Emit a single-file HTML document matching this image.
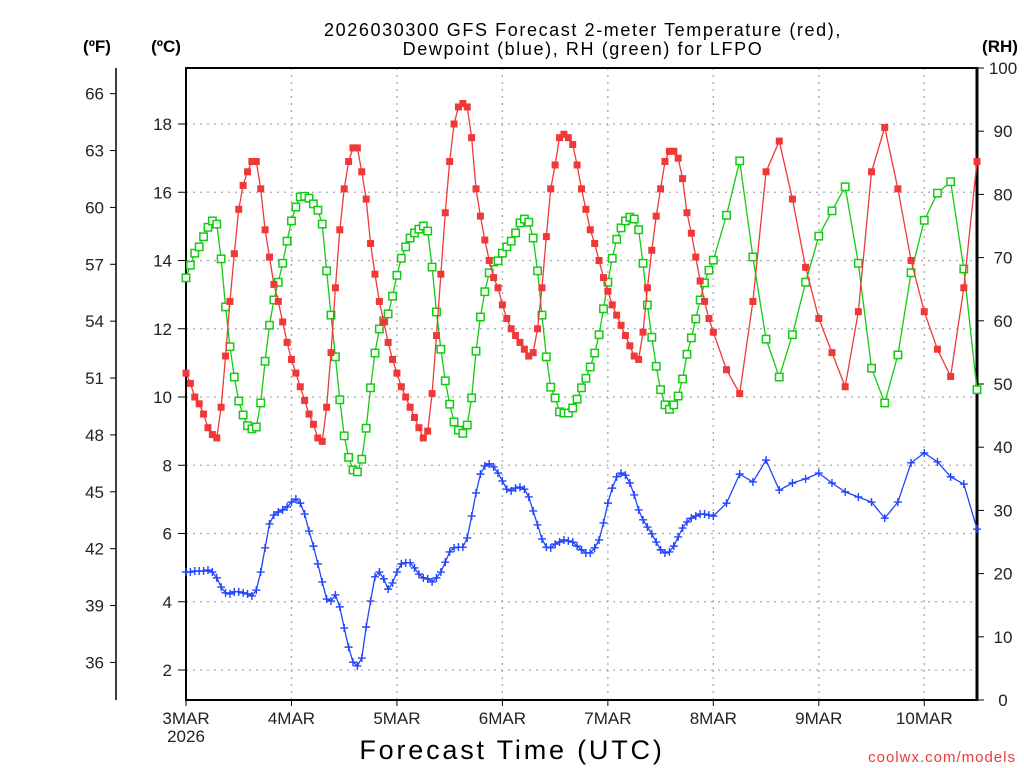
<!DOCTYPE html>
<html><head><meta charset="utf-8"><style>
html,body{margin:0;padding:0;background:#fff;}
svg{display:block;font-family:"Liberation Sans",sans-serif;}
</style></head><body>
<svg id="chart" width="1024" height="768" viewBox="0 0 1024 768" xmlns="http://www.w3.org/2000/svg">
<text x="583" y="36" font-size="18" text-anchor="middle" fill="#000" letter-spacing="1.6">2026030300 GFS Forecast 2-meter Temperature (red),</text>
<text x="583" y="55" font-size="18" text-anchor="middle" fill="#000" letter-spacing="1.6">Dewpoint (blue), RH (green) for LFPO</text>
<text x="97" y="52" font-size="17" font-weight="bold" text-anchor="middle">(ºF)</text>
<text x="166" y="52" font-size="17" font-weight="bold" text-anchor="middle">(ºC)</text>
<text x="1000" y="52" font-size="17" font-weight="bold" text-anchor="middle">(RH)</text>
<text x="512" y="759" font-size="27" text-anchor="middle" letter-spacing="2.8">Forecast Time (UTC)</text>
<text x="1016" y="762" font-size="15" text-anchor="end" fill="#e83c3c" letter-spacing="1">coolwx.com/models</text>
<g id="grid"></g>
<g id="axes"></g>
<g id="series"></g>
</svg>
<script>
const days = ["3MAR","4MAR","5MAR","6MAR","7MAR","8MAR","9MAR","10MAR"];
const cTicks = [2,4,6,8,10,12,14,16,18];
const fTicks = [36,39,42,45,48,51,54,57,60,63,66];
const rhTicks = [0,10,20,30,40,50,60,70,80,90,100];
const hours3h = [123,126,129,132,135,138,141,144,147,150,153,156,159,162,165,168,171,174,177,180];
const tempHourly = [10.7,10.4,10.0,9.8,9.5,9.1,8.9,8.8,9.7,11.2,12.8,14.2,15.5,16.2,16.6,16.9,16.9,16.1,14.9,14.1,13.3,12.8,12.2,11.6,11.1,10.7,10.3,9.9,9.5,9.2,8.8,8.7,9.7,11.3,13.2,14.9,16.1,16.9,17.3,17.3,16.6,15.8,14.5,13.6,12.8,12.2,11.6,11.1,10.7,10.3,10.0,9.7,9.4,9.1,8.8,9.0,10.1,11.8,13.6,15.4,16.9,18.0,18.5,18.6,18.5,17.6,16.1,15.3,14.6,14.0,13.5,13.2,12.7,12.3,12.0,11.8,11.6,11.4,11.2,11.3,12.0,13.2,14.7,16.1,16.8,17.6,17.7,17.6,17.4,16.8,16.1,15.5,14.9,14.5,14.0,13.5,13.1,12.7,12.4,12.1,11.8,11.5,11.2,11.1,11.9,13.2,14.3,15.3,16.1,16.9,17.2,17.2,17.0,16.4,15.4,14.8,14.1,13.4,12.8,12.3,11.9];
const temp3h = [10.8,10.1,12.8,16.6,17.5,15.8,13.8,12.3,11.3,10.3,12.5,16.6,17.9,16.1,14.0,12.5,11.4,10.6,13.2,16.9];
const dewHourly = [4.87,4.87,4.9,4.9,4.9,4.93,4.87,4.7,4.43,4.26,4.23,4.29,4.29,4.26,4.23,4.17,4.34,4.87,5.58,6.28,6.54,6.63,6.69,6.78,6.92,7.01,6.89,6.57,6.07,5.63,5.11,4.58,4.08,4.02,4.2,3.85,3.23,2.67,2.23,2.12,2.35,3.26,4.02,4.73,4.87,4.67,4.37,4.55,4.87,5.11,5.14,5.14,4.99,4.81,4.7,4.67,4.58,4.7,4.87,5.16,5.46,5.58,5.6,5.6,5.87,6.51,7.19,7.74,7.98,8.04,7.95,7.77,7.54,7.3,7.25,7.33,7.36,7.3,7.07,6.66,6.25,5.84,5.6,5.58,5.69,5.75,5.81,5.78,5.75,5.63,5.52,5.43,5.43,5.58,5.81,6.31,6.89,7.33,7.66,7.77,7.71,7.48,7.13,6.69,6.4,6.19,5.99,5.75,5.52,5.43,5.46,5.63,5.9,6.16,6.34,6.45,6.51,6.57,6.57,6.54,6.51];
const dew3h = [6.89,7.74,7.51,8.15,7.27,7.48,7.6,7.77,7.48,7.22,7.07,6.92,6.45,6.92,8.07,8.36,8.1,7.66,7.45,6.13];
const rhHourly = [66.8,68.8,70.7,71.7,73.3,74.8,75.8,75.3,69.8,62.2,55.9,51.1,47.3,45.1,43.4,42.9,43.2,47.0,53.6,59.3,63.3,66.1,69.1,72.6,75.8,78.0,79.6,79.7,79.4,78.5,77.5,75.3,67.9,60.9,54.3,47.5,41.8,38.4,36.4,36.1,38.1,43.0,49.4,54.9,58.7,60.0,61.1,63.9,67.2,69.9,71.7,73.1,73.9,74.5,75.0,74.2,68.5,61.4,55.5,50.5,46.8,44.0,42.7,42.2,43.5,47.8,55.2,60.6,64.6,67.6,69.3,69.5,70.7,71.7,72.6,73.9,75.5,76.1,75.6,73.1,67.9,60.9,54.3,49.5,47.8,45.6,45.4,45.4,46.2,47.6,49.4,50.9,52.7,54.9,57.8,61.9,66.1,69.9,72.9,74.7,75.8,76.4,76.1,74.4,69.1,62.5,57.4,52.8,49.1,46.7,46.0,46.7,48.1,50.8,54.7,57.3,60.3,63.3,66.0,68.0,69.6];
const rh3h = [76.7,85.3,70.1,57.1,51.1,57.8,66.1,73.4,77.4,81.2,69.1,52.5,47.0,54.6,67.6,75.9,80.2,82.0,68.2,49.1];

const NS="http://www.w3.org/2000/svg";
const L=186,R=977,T=68,B=700;
const xH=h=>L+h*(R-L)/180;
const yC=c=>670-(c-2)*34.125;
const yF=f=>yC((f-32)*5/9);
const yRH=v=>B-v*(B-T)/100;
function mk(tag,attrs,parent){const e=document.createElementNS(NS,tag);for(const k in attrs)e.setAttribute(k,attrs[k]);parent.appendChild(e);return e;}
const grid=document.getElementById('grid'),axes=document.getElementById('axes'),series=document.getElementById('series');

cTicks.forEach(c=>{
  const g=mk('line',{x1:L,x2:R,y1:yC(c),y2:yC(c),stroke:'#aaa','stroke-width':1.3,'stroke-dasharray':'2 5'},grid);
  
  
  const t=mk('line',{x1:L-8,x2:L,y1:yC(c),y2:yC(c),stroke:'#000','stroke-width':1},axes);
  
  
  const lb=mk('text',{x:L-14,y:yC(c)+6,'font-size':17,'text-anchor':'end',fill:'#222'},axes);
  lb.textContent=c;
  
  
});
days.forEach((d,i)=>{
  const x=xH(i*24);
  if(i>0){const g=mk('line',{x1:x,x2:x,y1:T,y2:B,stroke:'#aaa','stroke-width':1.3,'stroke-dasharray':'2 5'},grid);
  
  }
  const t=mk('line',{x1:x,x2:x,y1:B,y2:B+6,stroke:'#000','stroke-width':1},axes);
  
  
  const lb=mk('text',{x:x,y:B+24,'font-size':17,'text-anchor':'middle',fill:'#222'},axes);
  lb.textContent=d;
  
  
});
const yr=mk('text',{x:L,y:B+42,'font-size':17,'text-anchor':'middle',fill:'#222'},axes);
yr.textContent='2026';


fTicks.forEach(f=>{
  const t=mk('line',{x1:110,x2:116,y1:yF(f),y2:yF(f),stroke:'#000','stroke-width':1},axes);
  
  
  const lb=mk('text',{x:104,y:yF(f)+6,'font-size':17,'text-anchor':'end',fill:'#222'},axes);
  lb.textContent=f;
  
  
});
rhTicks.forEach(v=>{
  const t=mk('line',{x1:R,x2:R+7,y1:yRH(v),y2:yRH(v),stroke:'#000','stroke-width':1},axes);
  
  
  const lb=mk('text',{x:1003,y:yRH(v)+6,'font-size':17,'text-anchor':'middle',fill:'#222'},axes);
  lb.textContent=v;
  
  
});
const fax=mk('line',{x1:116,x2:116,y1:T,y2:B,stroke:'#000','stroke-width':1.5},axes);


const frame=mk('rect',{x:L,y:T,width:R-L,height:B-T,fill:'none',stroke:'#000','stroke-width':2},axes);


const rax=mk('line',{x1:R,x2:R,y1:T,y2:B,stroke:'#000','stroke-width':3},axes);



function pts(hv,h3,yf){const p=[];for(let i=0;i<hv.length;i++)p.push([xH(i),yf(hv[i])]);h3.forEach((v,i)=>p.push([xH(hours3h[i]),yf(v)]));return p;}
function drawSeries(p,color,kind,name){
  const g=mk('g',{},series);
  
  
  const pl=mk('polyline',{points:p.map(q=>q.join(',')).join(' '),fill:'none',stroke:color,'stroke-width':1.3},g);
  
  
  p.forEach(q=>{
    let m;
    if(kind==='filled'){m=mk('rect',{x:q[0]-3.5,y:q[1]-3.5,width:7,height:7,fill:color},g);}
    else if(kind==='open'){m=mk('rect',{x:q[0]-3.7,y:q[1]-3.7,width:7.4,height:7.4,fill:'#fff',stroke:color,'stroke-width':1.5},g);}
    else{m=mk('path',{d:`M${q[0]-4},${q[1]}h8M${q[0]},${q[1]-4}v8`,stroke:color,'stroke-width':1.4},g);}
    
    
  });
}
drawSeries(pts(rhHourly,rh3h,yRH),'#11cc11','open','rh-series');
drawSeries(pts(tempHourly,temp3h,yC),'#f03838','filled','temperature-series');
drawSeries(pts(dewHourly,dew3h,yC),'#2244ff','cross','dewpoint-series');
</script>
</body></html>
